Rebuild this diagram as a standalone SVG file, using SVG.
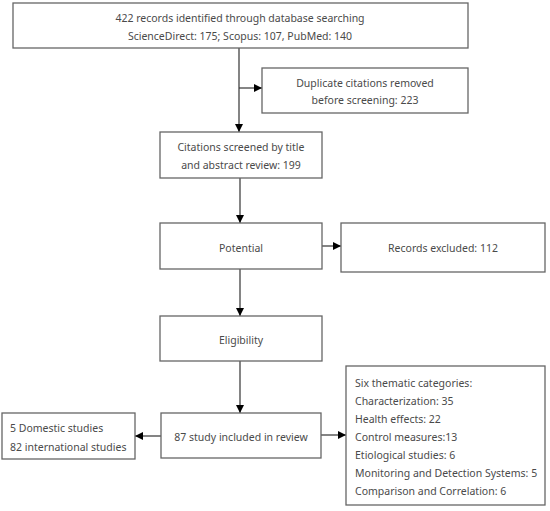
<svg xmlns="http://www.w3.org/2000/svg" width="550" height="511" viewBox="0 0 550 511">
<defs>
<marker id="ah" viewBox="0 0 10 10" refX="10" refY="5" markerWidth="8" markerHeight="8" markerUnits="userSpaceOnUse" orient="auto">
<path d="M0,0 L10,5 L0,10 z" fill="#000"/>
</marker>
<style>
.b{fill:#fff;stroke:#666;stroke-width:1.3}
text{font-family:"Noto Sans","DejaVu Sans",sans-serif;font-size:10.5px;fill:#4a4a4a}
.c{text-anchor:middle}
line{stroke:#333;stroke-width:1.2;marker-end:url(#ah)}
</style>
</defs>
<rect width="550" height="511" fill="#fff"/>
<g id="connectors">
<line x1="239" y1="48" x2="239" y2="132"/>
<line x1="239" y1="88" x2="262" y2="88"/>
<line x1="240" y1="178" x2="240" y2="223"/>
<line x1="322" y1="246" x2="341" y2="246"/>
<line x1="240" y1="269" x2="240" y2="316"/>
<line x1="240" y1="361" x2="240" y2="413"/>
<line x1="161" y1="436" x2="135" y2="436"/>
<line x1="321" y1="435" x2="346" y2="435"/>
</g>
<g id="n1"><rect class="b" x="13" y="3" width="455" height="45"/>
<text class="c" x="240" y="22">422 records identified through database searching</text>
<text class="c" x="240" y="40">ScienceDirect: 175; Scopus: 107, PubMed: 140</text></g>
<g id="n2"><rect class="b" x="262" y="68" width="206" height="45"/>
<text class="c" x="365" y="87">Duplicate citations removed</text>
<text class="c" x="365" y="104">before screening: 223</text></g>
<g id="n3"><rect class="b" x="160" y="132" width="162" height="46"/>
<text class="c" x="241" y="151">Citations screened by title</text>
<text class="c" x="241" y="169">and abstract review: 199</text></g>
<g id="n4"><rect class="b" x="160" y="223" width="162" height="46"/>
<text class="c" x="241" y="252">Potential</text></g>
<g id="n5"><rect class="b" x="341" y="223" width="204" height="49"/>
<text class="c" x="443" y="252">Records excluded: 112</text></g>
<g id="n6"><rect class="b" x="160" y="316" width="162" height="45"/>
<text class="c" x="241" y="344">Eligibility</text></g>
<g id="n7"><rect class="b" x="161" y="413" width="160" height="45"/>
<text class="c" x="241" y="441">87 study included in review</text></g>
<g id="n8"><rect class="b" x="2" y="413" width="133" height="46"/>
<text x="10" y="432">5 Domestic studies</text>
<text x="10" y="451">82 international studies</text></g>
<g id="n9"><rect class="b" x="346" y="366" width="199" height="139"/>
<text x="355" y="387">Six thematic categories:</text>
<text x="355" y="405">Characterization: 35</text>
<text x="355" y="423">Health effects: 22</text>
<text x="355" y="441">Control measures:13</text>
<text x="355" y="459">Etiological studies: 6</text>
<text x="355" y="477">Monitoring and Detection Systems: 5</text>
<text x="355" y="495">Comparison and Correlation: 6</text></g>
</svg>
